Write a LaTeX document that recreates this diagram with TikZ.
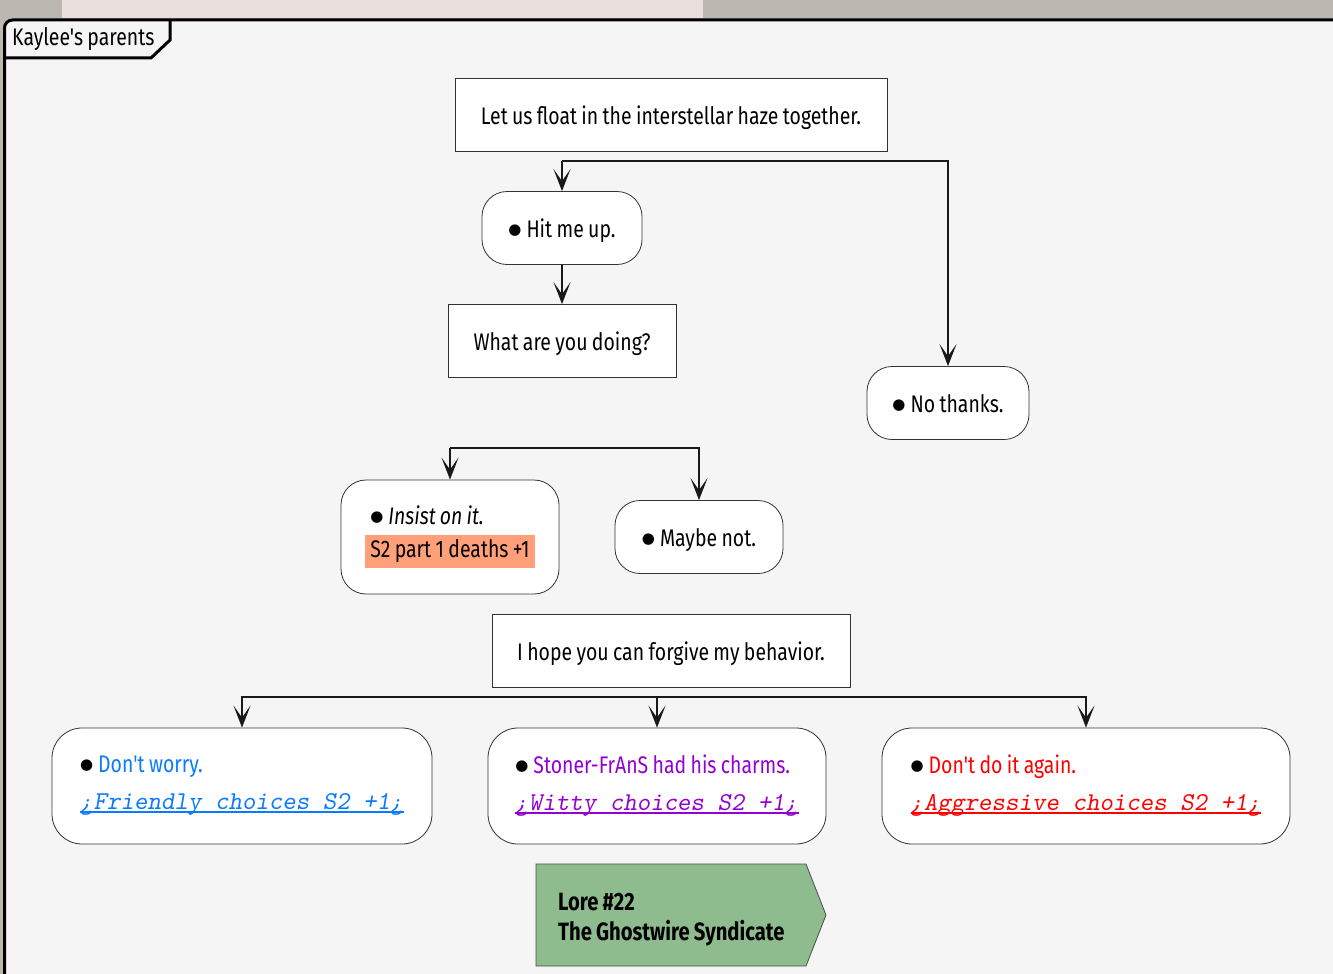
\documentclass[tikz,border=0pt]{standalone}
\usepackage{fontspec}
\setmainfont{Fira Sans}[FakeStretch=0.81, WordSpace=0.85, Ligatures=TeXOff]
\newfontfamily\dotfont{DejaVu Sans}
\usetikzlibrary{arrows.meta}
\definecolor{photogray}{HTML}{BDB7B2}
\definecolor{photolight}{HTML}{EADFDD}
\definecolor{bgpanel}{HTML}{F5F5F5}
\definecolor{friendly}{HTML}{0A7BFF}
\definecolor{witty}{HTML}{9400D3}
\definecolor{aggressive}{HTML}{FF0000}
\definecolor{hlsalmon}{HTML}{FFA07A}
\definecolor{lorefill}{HTML}{8FBC8F}
\newcommand\optdot{\raisebox{3pt}{\dotfont\fontsize{15}{15}\selectfont ●}\hspace{5pt}}
\newcommand\choicetag[1]{\hbox{\setbox0\hbox{#1}\rlap{\rule[-3pt]{\wd0}{1.6pt}}\box0}}
\tikzset{
	frame/.style={line width=3pt, black, rounded corners=8},
	msgbox/.style={draw=black!80, fill=white, line width=0.8pt, minimum height=73, inner sep=0pt, font=\fontsize{24}{28}\selectfont},
	lineonly/.style={text height=22pt, text depth=4pt},
	optbox/.style={msgbox, rounded corners=25},
	choicebox/.style={optbox, rounded corners=30, minimum height=116, align=left, font=\fontsize{24}{37}\selectfont},
	flow/.style={draw=black!90, line width=2.3pt, -{Stealth[length=22pt,width=17pt,inset=12pt]}},
	lorebox/.style={fill=lorefill, draw=black!70, line width=0.8pt},
	loretext/.style={align=left, inner sep=0pt, font=\fontsize{25}{30}\selectfont\bfseries}
}
\begin{document}
\begin{tikzpicture}[x=1pt, y=-1pt]
		\fill[photogray] (0,0) rectangle (1333,974);
		\fill[photolight] (62,0) rectangle (703,18);
		\useasboundingbox (0,0) rectangle (1333,974);
		\fill[bgpanel, rounded corners=8] (4.5,990) -- (4.5,20) -- (1350,20) -- (1350,990) -- cycle;
		\draw[frame] (4.5,990) -- (4.5,20) -- (1350,20);
		\draw[frame, rounded corners=0] (4.5,58) -- (151,58) -- (170,40) -- (170,20);
		\node[font=\fontsize{24}{28}\selectfont, anchor=west, inner sep=0pt] (title) at (12,39) {Kaylee's parents};
		% dialogue
		\node[msgbox, lineonly, minimum width=432] (float) at (671,115) {Let us float in the interstellar haze together.};
		\node[optbox, lineonly, minimum width=160] (hit) at (562,228) {\optdot Hit me up.};
		\node[msgbox, lineonly, minimum width=228] (doing) at (562,341) {What are you doing?};
		\node[optbox, lineonly, minimum width=162] (nothanks) at (948,403) {\optdot No thanks.};
		\node[optbox, minimum width=218, minimum height=114, align=left, font=\fontsize{24}{35}\selectfont] (insist) at (450,537) {\hspace*{5pt}\optdot\textit{Insist on it.}\\[-2pt]{\fboxsep=5pt\colorbox{hlsalmon}{S2 part 1 deaths +1}}};
		\node[optbox, lineonly, minimum width=168] (maybe) at (699,537) {\optdot Maybe not.};
		\node[msgbox, lineonly, minimum width=358] (forgive) at (671,651) {I hope you can forgive my behavior.};
		\foreach \name/\xpos/\boxw/\col/\reply/\kind in {
			worry/242/380/friendly/{Don't worry.}/{Friendly},
			charms/657/338/witty/{Stoner-FrAnS had his charms.}/{Witty},
			again/1086/408/aggressive/{Don't do it again.}/{Aggressive}}{
		\node[choicebox, minimum width=\boxw] (\name) at (\xpos,786) {\optdot{\color{\col}\reply}\\{\color{\col}\fontsize{25.7}{37}\selectfont\ttfamily\slshape\choicetag{¿\kind\ choices S2 +1¿}}};
		}
		% branches
		\coordinate (fork1) at (562,161);
		\draw[flow] (fork1) -- (hit);
		\draw[flow] (fork1) -| (nothanks);
		\draw[flow] (hit) -- (doing);
		\coordinate (fork2) at (450,448);
		\draw[flow] (fork2) -- (insist);
		\draw[flow] (fork2) -| (maybe);
		\coordinate (fork3) at (657,697);
		\draw[flow] (fork3) -| (worry);
		\draw[flow] (fork3) -- (charms);
		\draw[flow] (fork3) -| (again);
		% lore
		\filldraw[lorebox] (536,864) -- (806,864) -- (826,915) -- (806,966) -- (536,966) -- cycle;
		\node[loretext, anchor=west] (lore) at (558,920) {Lore \#22\\The Ghostwire Syndicate};
		\end{tikzpicture}
\end{document}
